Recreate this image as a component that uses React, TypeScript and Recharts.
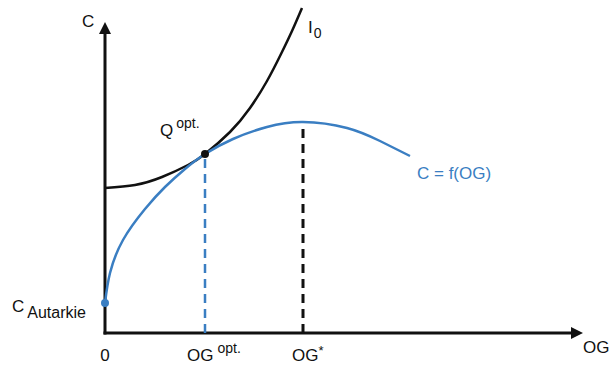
import { LineChart, Line, XAxis, YAxis, ReferenceLine, ReferenceDot } from "recharts"

// curve points (x: output, y: consumption units)
const blueCurve = [
  { x: 0, y: 30 },
  { x: 5, y: 60 },
  { x: 18, y: 93 },
  { x: 40, y: 124 },
  { x: 60, y: 146 },
  { x: 80, y: 164 },
  { x: 100, y: 179 },
  { x: 128, y: 194 },
  { x: 162, y: 206 },
  { x: 198, y: 211 },
  { x: 242, y: 205 },
  { x: 275, y: 192 },
  { x: 305, y: 177 },
]

const blackCurve = [
  { x: 0, y: 145 },
  { x: 30, y: 148 },
  { x: 57, y: 156 },
  { x: 83, y: 168 },
  { x: 100, y: 179 },
  { x: 125, y: 201 },
  { x: 145, y: 225 },
  { x: 162, y: 252 },
  { x: 176, y: 279 },
  { x: 187, y: 302 },
  { x: 197, y: 325 },
]

const cAutarkie = 30
const ogOpt = 100
const qOpt = 179
const ogStar = 198
const cMax = 211
const xTicks = [0, ogOpt, ogStar]
const xEnd = 478
const yEnd = 311

const BLUE = "#3a7ec2"
const INK = "#111111"
const FONT = "'Liberation Sans', Arial, sans-serif"

const Arrow = (props: any) => {
  const { x1, y1, x2, y2 } = props
  const vertical = Math.abs(x1 - x2) < 1
  if (vertical) {
    const tip = Math.min(y1, y2)
    const base = Math.max(y1, y2)
    return (
      <g>
        <line x1={x1} y1={base + 1.5} x2={x1} y2={tip + 8} stroke={INK} strokeWidth={3} />
        <polygon points={`${x1},${tip} ${x1 - 6},${tip + 12} ${x1 + 6},${tip + 12}`} fill={INK} />
      </g>
    )
  }
  const tip = Math.max(x1, x2)
  const base = Math.min(x1, x2)
  return (
    <g>
      <line x1={base - 1.5} y1={y1} x2={tip - 8} y2={y1} stroke={INK} strokeWidth={3} />
      <polygon points={`${tip},${y1} ${tip - 12},${y1 - 6} ${tip - 12},${y1 + 6}`} fill={INK} />
    </g>
  )
}

const at = (render: (x: number, y: number) => any) => (p: any) => {
  const vb = p.viewBox || {}
  return render(vb.x + (vb.width || 0) / 2, vb.y + (vb.height || 0) / 2)
}

const XTick = (props: any) => {
  const { x, y, payload } = props
  const v = payload.value
  if (v === 0)
    return (
      <text x={x} y={y + 28} textAnchor="middle" fontSize={17} fill={INK} fontFamily={FONT}>
        0
      </text>
    )
  if (v === ogOpt)
    return (
      <text x={x - 18} y={y + 28} fontSize={17} fill={INK} fontFamily={FONT}>
        OG
        <tspan dx={4} dy={-8} fontSize={14}>opt.</tspan>
      </text>
    )
  return (
    <text x={x - 11} y={y + 28} fontSize={17} fill={INK} fontFamily={FONT}>
      OG
      <tspan dy={-6} fontSize={13}>*</tspan>
    </text>
  )
}

const YTick = (props: any) => {
  const { x, y } = props
  return (
    <text x={x - 93} y={y + 9} fontSize={17} fill={INK} fontFamily={FONT}>
      C
      <tspan dx={3} dy={6} fontSize={16}>Autarkie</tspan>
    </text>
  )
}

export default function App() {
  return (
    <div style={{ position: "absolute", left: 0, top: 0, background: "#fff" }}>
      <LineChart width={613} height={366} margin={{ top: 8, right: 30, left: 0, bottom: 0 }}>
        <XAxis
          type="number"
          dataKey="x"
          domain={[0, xEnd]}
          ticks={xTicks}
          tick={<XTick />}
          axisLine={false}
          tickLine={false}
          tickSize={0}
          tickMargin={0}
          height={33}
          interval={0}
        />
        <YAxis
          type="number"
          dataKey="y"
          domain={[0, 325]}
          ticks={[cAutarkie]}
          tick={<YTick />}
          axisLine={false}
          tickLine={false}
          tickSize={0}
          tickMargin={0}
          width={105}
        />
        <ReferenceLine segment={[{ x: 0, y: 0 }, { x: 0, y: yEnd }]} shape={Arrow} ifOverflow="visible" />
        <ReferenceLine segment={[{ x: 0, y: 0 }, { x: xEnd, y: 0 }]} shape={Arrow} ifOverflow="visible" />
        <ReferenceLine
          segment={[{ x: ogOpt, y: 0 }, { x: ogOpt, y: qOpt }]}
          stroke={BLUE}
          strokeWidth={2.5}
          strokeDasharray="9 6"
        />
        <ReferenceLine
          segment={[{ x: ogStar, y: 0 }, { x: ogStar, y: cMax }]}
          stroke={INK}
          strokeWidth={3}
          strokeDasharray="9 6"
        />
        <Line
          data={blackCurve}
          dataKey="y"
          type="natural"
          stroke={INK}
          strokeWidth={2.5}
          dot={false}
          isAnimationActive={false}
        />
        <Line
          data={blueCurve}
          dataKey="y"
          type="natural"
          stroke={BLUE}
          strokeWidth={2.5}
          dot={false}
          isAnimationActive={false}
        />
        <ReferenceDot x={0} y={cAutarkie} r={4} fill={BLUE} stroke="none" />
        <ReferenceDot
          x={ogOpt}
          y={qOpt}
          r={4}
          fill={INK}
          stroke="none"
          label={{
            content: at((x, y) => (
              <text x={x - 45} y={y - 18} fontSize={17} fill={INK} fontFamily={FONT}>
                Q
                <tspan dx={3} dy={-8} fontSize={14}>opt.</tspan>
              </text>
            )),
          }}
        />
        <ReferenceDot
          x={0}
          y={yEnd}
          r={0}
          label={{
            content: at((x, y) => (
              <text x={x - 23} y={y + 5} fontSize={17} fill={INK} fontFamily={FONT}>
                C
              </text>
            )),
          }}
        />
        <ReferenceDot
          x={xEnd}
          y={0}
          r={0}
          label={{
            content: at((x, y) => (
              <text x={x + 0} y={y + 20} fontSize={17} fill={INK} fontFamily={FONT}>
                OG
              </text>
            )),
          }}
        />
        <ReferenceDot
          x={197}
          y={325}
          r={0}
          label={{
            content: at((x, y) => (
              <text x={x + 6} y={y + 25} fontSize={17} fill={INK} fontFamily={FONT}>
                I
                <tspan dx={1} dy={5} fontSize={14}>0</tspan>
              </text>
            )),
          }}
        />
        <ReferenceDot
          x={305}
          y={177}
          r={0}
          label={{
            content: at((x, y) => (
              <text x={x + 7} y={y + 23} fontSize={17} fill={BLUE} fontFamily={FONT}>
                C = f(OG)
              </text>
            )),
          }}
        />
      </LineChart>
    </div>
  )
}
